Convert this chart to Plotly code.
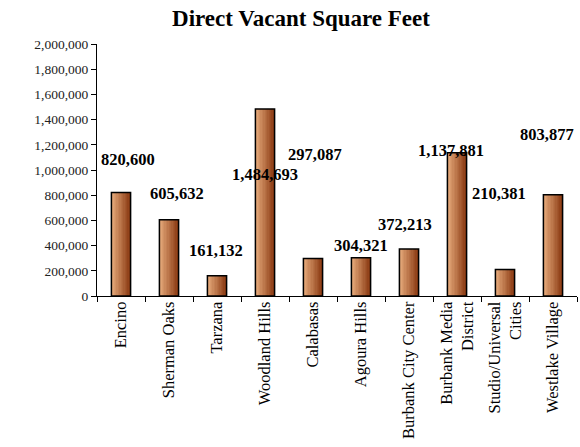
import plotly.graph_objects as go

categories = ["Encino", "Sherman Oaks", "Tarzana", "Woodland Hills", "Calabasas",
              "Agoura Hills", "Burbank City Center", "Burbank Media<br>District",
              "Studio/Universal<br>Cities", "Westlake Village"]
values = [820600, 605632, 161132, 1484693, 297087, 304321, 372213, 1137881, 210381, 803877]
# label offsets in pixels (dx, dy) relative to bar top
label_dx = [7, 8, -1, 0, 2, 0, -4, -6, -6, -6]
label_dy = [33, 26, 25, -66, 104, 12, 25, 2, 76, 60]

BAR_W = 0.4
N = 14
light = (232, 172, 124)
dark = (140, 60, 20)

fig = go.Figure()
for i in range(N):
    t = i / (N - 1)
    c = tuple(int(light[k] + (dark[k] - light[k]) * t) for k in range(3))
    fig.add_trace(go.Bar(
        x=categories, y=values, width=BAR_W / N, offset=-BAR_W / 2 + i * BAR_W / N,
        marker=dict(color="rgb(%d,%d,%d)" % c, line=dict(width=0)),
        hoverinfo="skip", showlegend=False))
fig.add_trace(go.Bar(
    x=categories, y=values, width=BAR_W, offset=-BAR_W / 2,
    marker=dict(color="rgba(0,0,0,0)", line=dict(color="black", width=1.5)),
    showlegend=False))

for c, v, dx, dy in zip(categories, values, label_dx, label_dy):
    fig.add_annotation(x=c, y=v, text=f"{v:,}", showarrow=False,
                       xshift=dx, yshift=dy, yanchor="middle",
                       font=dict(family="Liberation Serif", size=16.5, color="black",
                                 weight="bold"))

fig.update_layout(
    width=580, height=447,
    margin=dict(l=97, r=3, t=44, b=151),
    paper_bgcolor="white", plot_bgcolor="white",
    barmode="overlay",
    title=dict(text="<b>Direct Vacant Square Feet</b>", x=0.519, xanchor="center",
               y=0.96, yanchor="middle",
               font=dict(family="Liberation Serif", size=23, color="black")),
    font=dict(family="Liberation Serif", color="black"),
    xaxis=dict(type="category", showline=True, linecolor="black", linewidth=1,
               ticks="outside", tickson="boundaries", ticklen=5, tickcolor="black",
               tickangle=-90, tickfont=dict(size=16.5, family="Liberation Serif"),
               ticklabelstandoff=-2, showgrid=False),
    yaxis=dict(range=[0, 2000000], dtick=200000, tickformat=",d",
               showline=True, linecolor="black", linewidth=1,
               ticks="outside", ticklen=5, tickcolor="black",
               tickfont=dict(size=13.5, family="Liberation Serif", color="#222"),
               showgrid=False, zeroline=False),
)

fig.write_html("out.html", config={"displayModeBar": False},
               post_script="document.body.style.margin='0';")
